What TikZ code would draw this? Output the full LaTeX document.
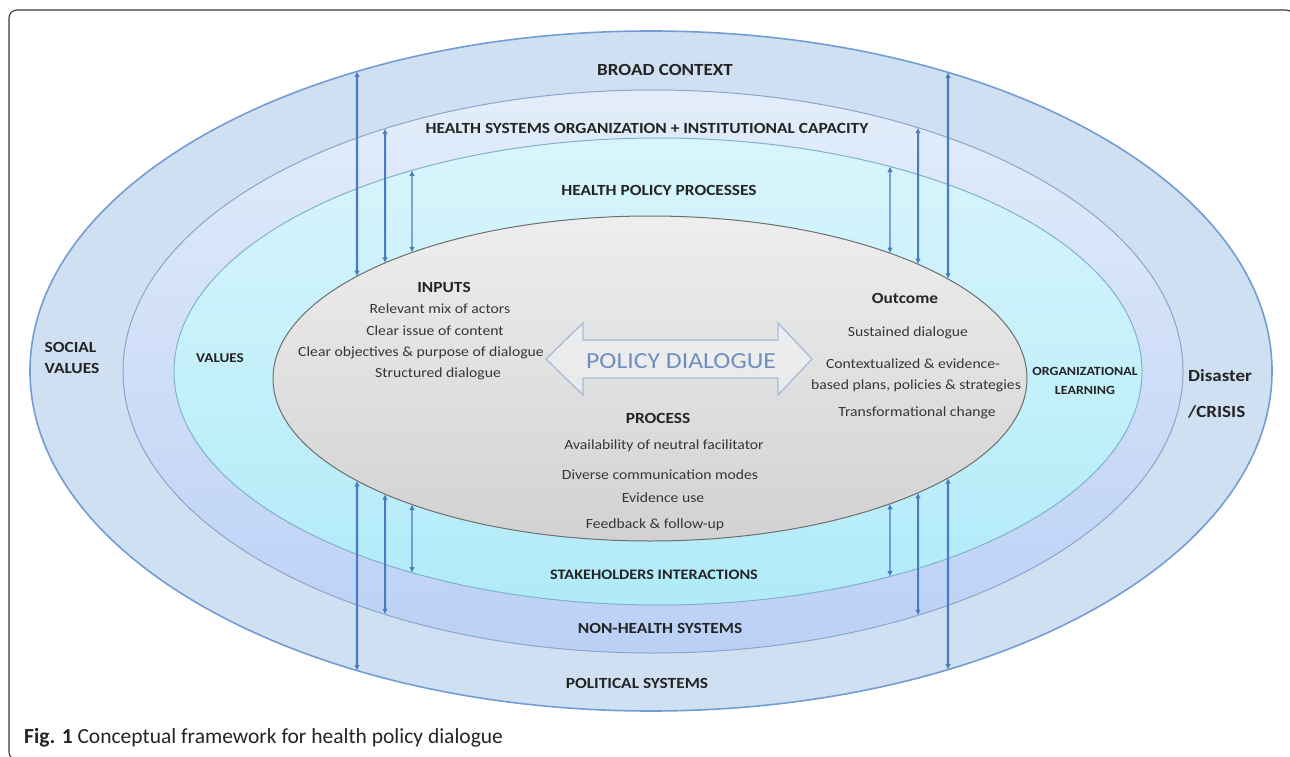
\documentclass[tikz,border=0pt]{standalone}
\usepackage{fontspec}
\setmainfont{Carlito}
\newfontfamily\wf[FakeStretch=1.12]{Carlito}
\usetikzlibrary{arrows.meta,intersections}

\definecolor{frm}{HTML}{3A3A3A}
\definecolor{bandA}{HTML}{CFE0F3}
\definecolor{bandBtop}{HTML}{E3EDFA}
\definecolor{bandBbot}{HTML}{BBD0F6}
\definecolor{bandCtop}{HTML}{D9F5FC}
\definecolor{bandCbot}{HTML}{B0EBF8}
\definecolor{greytop}{HTML}{EEEEEE}
\definecolor{greybot}{HTML}{D2D2D2}
\definecolor{lineA}{HTML}{729DD3}
\definecolor{lineB}{HTML}{8CA4C9}
\definecolor{lineC}{HTML}{80B1CC}
\definecolor{lineG}{HTML}{6E6E6E}
\definecolor{arr}{HTML}{4A7BBE}
\definecolor{pdline}{HTML}{A8BBD8}
\definecolor{pdtext}{HTML}{6F8EC0}
\definecolor{txt}{HTML}{242424}

\tikzset{
  bandlbl/.style={font=\wf\bfseries\fontsize{15.5}{18}\selectfont, text=txt, inner sep=0pt},
  headlbl/.style={font=\wf\bfseries\fontsize{15.5}{18}\selectfont, text=txt, inner sep=0pt},
  itemlbl/.style={font=\wf\fontsize{14}{16}\selectfont, text=txt!92, inner sep=0pt},
  link/.style={draw=arr, {Latex[length=5.5pt,width=5.5pt]}-{Latex[length=5.5pt,width=5.5pt]}},
  longlink/.style={link, line width=2.3pt},
  midlink/.style={link, line width=2pt},
  shortlink/.style={link, line width=1.4pt},
}

\begin{document}
\begin{tikzpicture}[x=1pt,y=-1pt]
\useasboundingbox (0,0) rectangle (1290,757);
\fill[white] (0,0) rectangle (1290,757);

% frame
\draw[frm, line width=1.1pt, rounded corners=8pt] (1294,300) -- (1294,10) -- (9,10) -- (9,760) -- (300,760);

% ellipses
\path[name path=E1, fill=bandA, draw=lineA, line width=1.6pt] (651,371) ellipse [x radius=621pt, y radius=340pt];
\path[name path=E2, top color=bandBtop, bottom color=bandBbot, draw=lineB, line width=1pt] (653,371.5) ellipse [x radius=530pt, y radius=281.5pt];
\path[name path=E3, top color=bandCtop, bottom color=bandCbot, draw=lineC, line width=1pt] (658,371.5) ellipse [x radius=484pt, y radius=233.5pt];
\path[name path=E4, top color=greytop, bottom color=greybot, draw=lineG, line width=1pt] (650,378.5) ellipse [x radius=377pt, y radius=162.5pt];

% vertical guide lines for the connectors
\path[name path=VL1] (357,0) -- (357,757);
\path[name path=VL2] (385,0) -- (385,757);
\path[name path=VL3] (412,0) -- (412,757);
\path[name path=VR1] (948,0) -- (948,757);
\path[name path=VR2] (918,0) -- (918,757);
\path[name path=VR3] (890,0) -- (890,757);

\path[name intersections={of=VL1 and E1, sort by=VL1, by={L1o1,L1o2}}];
\path[name intersections={of=VL1 and E4, sort by=VL1, by={L1g1,L1g2}}];
\path[name intersections={of=VL2 and E2, sort by=VL2, by={L2o1,L2o2}}];
\path[name intersections={of=VL2 and E4, sort by=VL2, by={L2g1,L2g2}}];
\path[name intersections={of=VL3 and E3, sort by=VL3, by={L3o1,L3o2}}];
\path[name intersections={of=VL3 and E4, sort by=VL3, by={L3g1,L3g2}}];
\path[name intersections={of=VR1 and E1, sort by=VR1, by={R1o1,R1o2}}];
\path[name intersections={of=VR1 and E4, sort by=VR1, by={R1g1,R1g2}}];
\path[name intersections={of=VR2 and E2, sort by=VR2, by={R2o1,R2o2}}];
\path[name intersections={of=VR2 and E4, sort by=VR2, by={R2g1,R2g2}}];
\path[name intersections={of=VR3 and E3, sort by=VR3, by={R3o1,R3o2}}];
\path[name intersections={of=VR3 and E4, sort by=VR3, by={R3g1,R3g2}}];

% connectors
\draw[longlink] (L1o1) -- (L1g1);
\draw[longlink] (L1g2) -- (L1o2);
\draw[midlink] (L2o1) -- (L2g1);
\draw[midlink] (L2g2) -- (L2o2);
\draw[shortlink] (L3o1) -- (L3g1);
\draw[shortlink] (L3g2) -- (L3o2);
\draw[longlink] (R1o1) -- (R1g1);
\draw[longlink] (R1g2) -- (R1o2);
\draw[midlink] (R2o1) -- (R2g1);
\draw[midlink] (R2g2) -- (R2o2);
\draw[shortlink] (R3o1) -- (R3g1);
\draw[shortlink] (R3g2) -- (R3o2);

% policy dialogue double arrow
\draw[pdline, line width=1.3pt, fill=white, fill opacity=0.35, line join=miter]
  (546,359) -- (583,323) -- (583,340) -- (778,340) -- (778,323) -- (812,359)
  -- (778,395) -- (778,378) -- (583,378) -- (583,395) -- cycle;
\node[font=\wf\fontsize{23}{26}\selectfont, text=pdtext, inner sep=0pt] (pd) at (681,361) {POLICY DIALOGUE};

% band labels
\node[bandlbl, font=\wf\bfseries\fontsize{17}{20}\selectfont] (broad) at (665,70) {BROAD CONTEXT};
\node[bandlbl] (hso) at (647,128) {HEALTH SYSTEMS ORGANIZATION + INSTITUTIONAL CAPACITY};
\node[bandlbl] (hpp) at (659,190) {HEALTH POLICY PROCESSES};
\node[bandlbl, font=\wf\bfseries\fontsize{14.5}{17}\selectfont] (stake) at (654,575) {STAKEHOLDERS INTERACTIONS};
\node[bandlbl] (nonh) at (660,628) {NON-HEALTH SYSTEMS};
\node[bandlbl] (polit) at (637,683) {POLITICAL SYSTEMS};
\node[bandlbl, align=left, font=\wf\bfseries\fontsize{15.5}{21}\selectfont] (social) at (72,358) {SOCIAL\\VALUES};
\node[bandlbl, font=\wf\bfseries\fontsize{13.5}{16}\selectfont] (values) at (220,358) {VALUES};
\node[bandlbl, align=center, font=\wf\bfseries\fontsize{12.5}{19}\selectfont] (orgl) at (1085,381) {ORGANIZATIONAL\\LEARNING};
\node[bandlbl, align=left, font=\wf\bfseries\fontsize{17}{36}\selectfont] (crisis) at (1220,394) {Disaster\\/CRISIS};

% inputs
\node[headlbl] (inputs) at (444,287) {INPUTS};
\node[itemlbl] (in1) at (440,309) {Relevant mix of actors};
\node[itemlbl] (in2) at (435,331) {Clear issue of content};
\node[itemlbl] (in3) at (421,353) {Clear objectives \& purpose of dialogue};
\node[itemlbl] (in4) at (438,374) {Structured dialogue};

% outcome
\node[headlbl] (outcome) at (905,298) {Outcome};
\node[itemlbl] (out1) at (908,333) {Sustained dialogue};
\node[itemlbl] (out2) at (913,364) {Contextualized \& evidence-};
\node[itemlbl] (out3) at (916,386) {based plans, policies \& strategies};
\node[itemlbl] (out4) at (917,413) {Transformational change};

% process
\node[headlbl] (process) at (658,418) {PROCESS};
\node[itemlbl] (pr1) at (664,446) {Availability of neutral facilitator};
\node[itemlbl] (pr2) at (660,475) {Diverse communication modes};
\node[itemlbl] (pr3) at (663,498) {Evidence use};
\node[itemlbl] (pr4) at (655,525) {Feedback \& follow-up};

% caption
\node[anchor=west, inner sep=0pt, text=txt, font=\fontsize{21.5}{24}\selectfont] (cap) at (24,738) {\textbf{Fig. 1} Conceptual framework for health policy dialogue};
\end{tikzpicture}
\end{document}
